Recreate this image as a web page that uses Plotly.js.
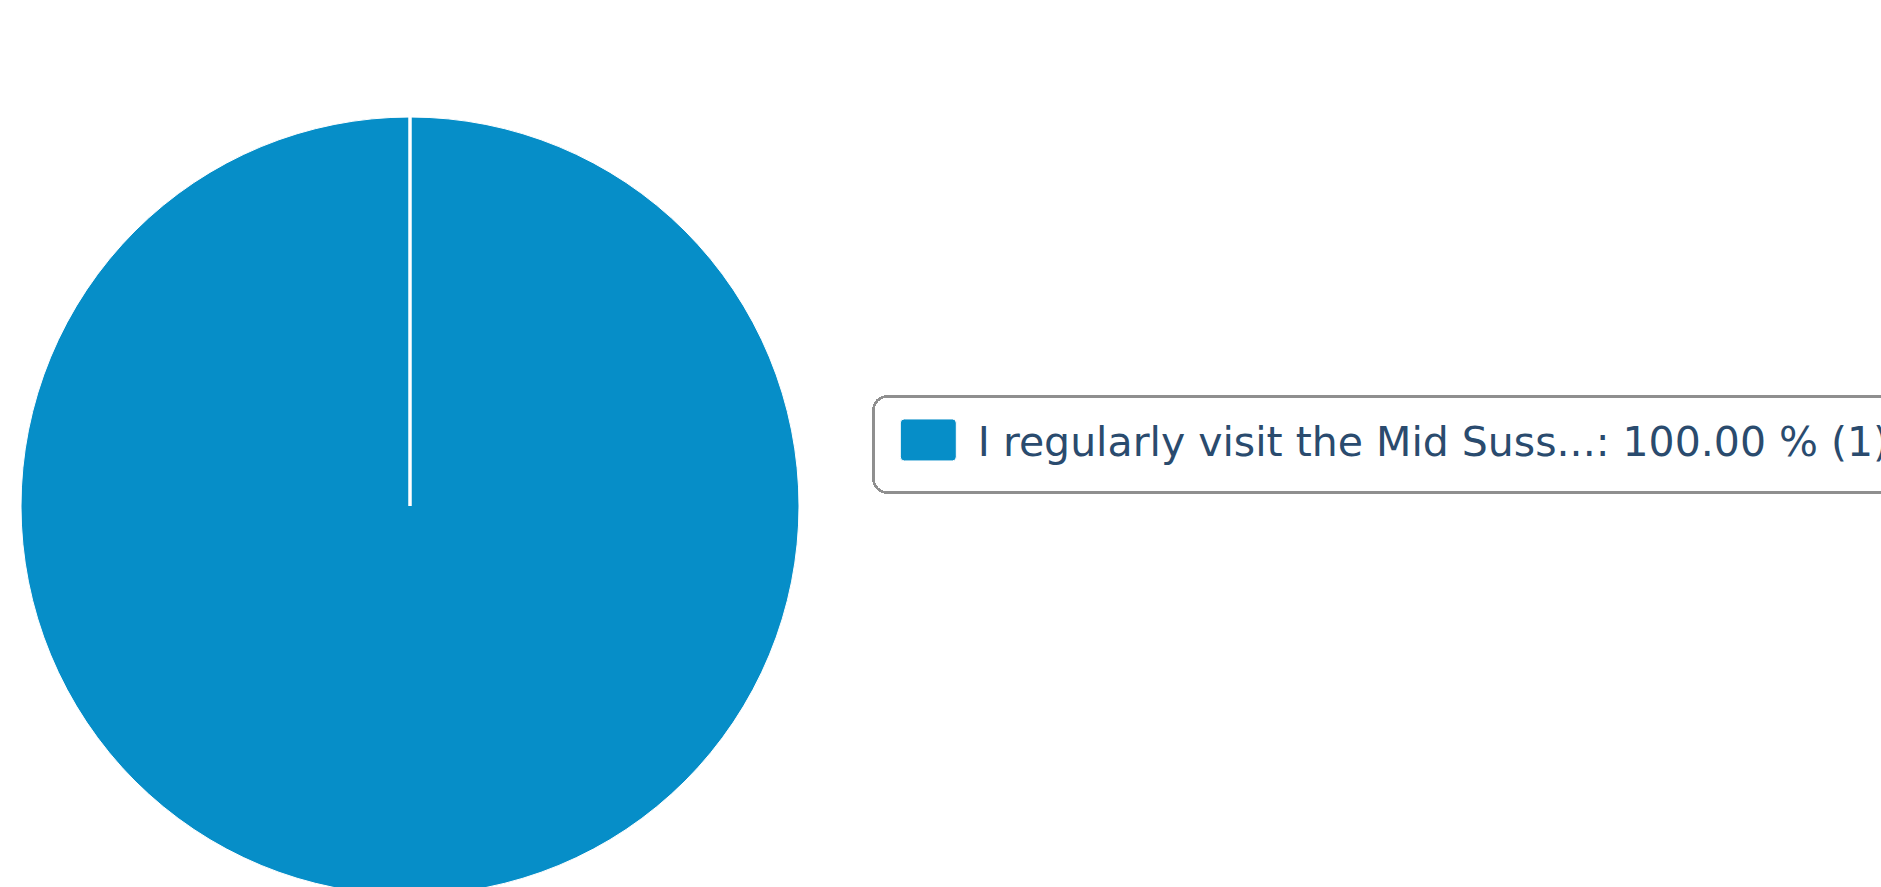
<!DOCTYPE html>
<html>
<head>
<meta charset="utf-8">
<script src="https://cdn.plot.ly/plotly-3.0.1.min.js"></script>
<style>
  html, body { margin: 0; padding: 0; background: #ffffff; overflow: hidden; }
  #chart { width: 1960px; height: 900px; }
</style>
</head>
<body>
<div id="chart"></div>
<script>
// ---- data ----
const categories = ['I regularly visit the Mid Suss...'];
const counts = [1];
const sliceColors = ['#068ec8'];

// ---- derived legend labels ----
const total = counts.reduce((a, b) => a + b, 0);
const legendLabels = categories.map((c, i) =>
  c + ': ' + (counts[i] / total * 100).toFixed(2) + ' % (' + counts[i] + ')');

// ---- layout constants (pixels) ----
const W = 1960, H = 900;
const cx = 410, cyTop = 506, r = 389;
const dom = {
  x: [(cx - r) / W, (cx + r) / W],
  y: [(H - cyTop - r) / H, (H - cyTop + r) / H]
};

const trace = {
  type: 'pie',
  labels: legendLabels,
  values: counts,
  marker: { colors: sliceColors, line: { color: '#ffffff', width: 1 } },
  textinfo: 'none',
  sort: false,
  rotation: 0,
  direction: 'clockwise',
  domain: dom,
  hoverinfo: 'label'
};

const layout = {
  width: W,
  height: H,
  margin: { l: 0, r: 0, t: 0, b: 0, pad: 0 },
  paper_bgcolor: '#ffffff',
  showlegend: true,
  legend: {
    x: 872 / W,
    y: (H - 395) / H,
    xanchor: 'left',
    yanchor: 'top',
    bgcolor: '#ffffff',
    bordercolor: '#8f8f8f',
    borderwidth: 2.8,
    itemwidth: 93,
    font: { family: 'DejaVu Sans, Verdana, sans-serif', size: 41, color: '#2a4b6e' }
  },
  shapes: [{
    type: 'line', xref: 'paper', yref: 'paper',
    x0: (dom.x[0] + dom.x[1]) / 2, x1: (dom.x[0] + dom.x[1]) / 2,
    y0: (dom.y[0] + dom.y[1]) / 2, y1: dom.y[1],
    line: { color: '#ffffff', width: 3.5 }
  }]
};

Plotly.newPlot('chart', [trace], layout, { staticPlot: true, displayModeBar: false }).then(function (gd) {
  const shift = 9, grow = 27;
  const leg = gd.querySelector('g.legend');
  if (leg) {
    const t = leg.getAttribute('transform') || '';
    const m = t.match(/translate\(\s*([-\d.]+)[ ,]+([-\d.]+)\s*\)/);
    if (m) leg.setAttribute('transform', 'translate(' + m[1] + ',' + (parseFloat(m[2]) + shift) + ')');
  }
  const bg = gd.querySelector('.legend rect.bg');
  if (bg) {
    const y0 = parseFloat(bg.getAttribute('y') || 0);
    const h0 = parseFloat(bg.getAttribute('height') || 0);
    bg.setAttribute('y', y0 - shift);
    bg.setAttribute('height', h0 + grow);
    bg.setAttribute('rx', 14);
    bg.setAttribute('ry', 14);
  }
  gd.querySelectorAll('.legend .legendpoints path').forEach(function (p) {
    p.setAttribute('d', 'M-22,-21H26Q30,-21 30,-17V17Q30,21 26,21H-22Q-26,21 -26,17V-17Q-26,-21 -22,-21Z');
  });
});
</script>
</body>
</html>
